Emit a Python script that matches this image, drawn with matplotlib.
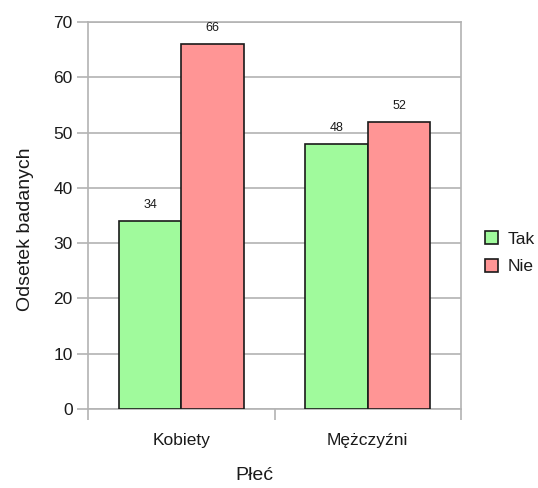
import matplotlib
matplotlib.use("Agg")
import matplotlib.pyplot as plt
import numpy as np

plt.rcParams['font.family'] = ['Liberation Sans', 'DejaVu Sans']

categories = ["Kobiety", "Mężczyźni"]
series_names = ["Tak", "Nie"]
tak = [34, 48]
nie = [66, 52]
y_ticks = [0, 10, 20, 30, 40, 50, 60, 70]

green = "#a0fa9c"
red = "#ff9595"
edge = "#1a1a1a"
grid_gray = "#b3b3b3"
text_color = "#1a1a1a"

fig = plt.figure(figsize=(5.38, 4.88), dpi=100)
ax = fig.add_axes([88 / 538, 1 - 409 / 488, 373 / 538, 387 / 488])

x = np.arange(len(categories))
w = 0.335
bars_tak = ax.bar(x - w / 2, tak, w, color=green, edgecolor=edge, linewidth=1.2,
                  label=series_names[0], zorder=3)
bars_nie = ax.bar(x + w / 2, nie, w, color=red, edgecolor=edge, linewidth=1.2,
                  label=series_names[1], zorder=3)

for bars, vals in ((bars_tak, tak), (bars_nie, nie)):
    for b, v in zip(bars, vals):
        ax.annotate(str(v), (b.get_x() + b.get_width() / 2, v),
                    xytext=(0, 7), textcoords="offset points",
                    ha="center", va="bottom", fontsize=9, color=text_color)

ax.set_xlim(-0.5, len(categories) - 0.5)
ax.set_ylim(0, 70)
ax.set_yticks(y_ticks)
ax.set_yticklabels([str(t) for t in y_ticks])
ax.yaxis.grid(True, color=grid_gray, linewidth=1.2, zorder=0)

# category ticks sit at the boundaries between groups
ax.set_xticks(np.arange(-0.5, len(categories), 1.0))
ax.set_xticklabels([])
ax.set_xticks(x, minor=True)
ax.set_xticklabels(categories, minor=True)
ax.tick_params(axis="x", which="minor", length=0, pad=17, labelsize=12.5, colors=text_color)
ax.tick_params(axis="x", which="major", length=8, width=1.2, color=grid_gray)
ax.tick_params(axis="y", length=8, width=1.2, color=grid_gray, pad=3,
               labelsize=12.5, labelcolor=text_color)

for s in ax.spines.values():
    s.set_color(grid_gray)
    s.set_linewidth(1.2)

ax.set_xlabel("Płeć", fontsize=14, color=text_color)
ax.xaxis.set_label_coords(0.445, -0.15)
ax.xaxis.label.set_va("top")
ax.set_ylabel("Odsetek badanych", fontsize=14, color=text_color)
ax.yaxis.set_label_coords(-0.168, 0.465)
ax.yaxis.label.set_va("center")

leg = ax.legend(loc="upper left", bbox_to_anchor=(1.045, 0.477), frameon=False,
                fontsize=12.5, handlelength=0.75, handleheight=0.75,
                handletextpad=0.55, labelspacing=0.7, borderaxespad=0)
for t in leg.get_texts():
    t.set_color(text_color)

fig.savefig("out.png", dpi=100)
